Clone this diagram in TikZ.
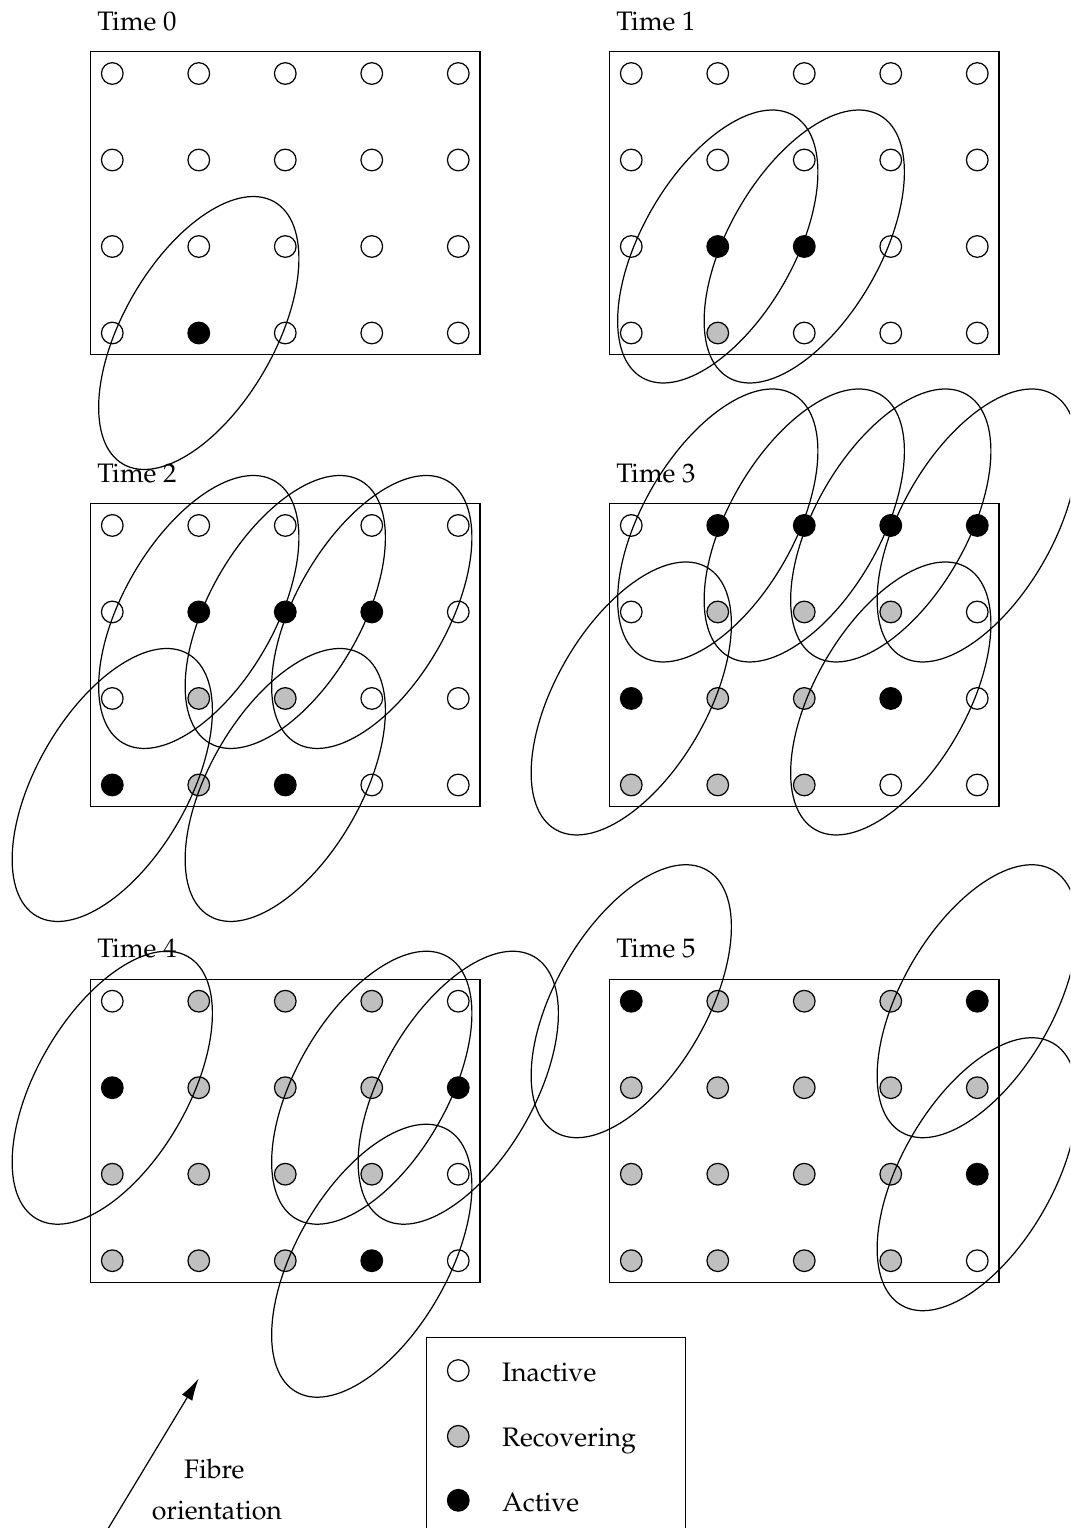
\documentclass[tikz,border=0pt]{standalone}
\usepackage[T1]{fontenc}
\renewcommand{\rmdefault}{ppl}
\usepackage{xcolor}
\usepackage{tikz}
\usetikzlibrary{arrows.meta,positioning}
\definecolor{recov}{gray}{0.75}
\tikzset{
  cell/.style={circle,draw,inner sep=0pt,minimum size=0.25cm},
  stw/.style={cell,fill=white},
  stg/.style={cell,fill=recov},
  stb/.style={cell,fill=black},
  fib/.style={thin},
  ar/.style={-{Latex[length=2.6mm,width=1.4mm]},thin},
  lbl/.style={anchor=base west,inner sep=0pt,font=\fontsize{8.8}{10.5}\selectfont},
  note/.style={anchor=base,inner sep=0pt,font=\fontsize{8.8}{10.5}\selectfont}
}
\newcommand{\panel}[4]{%
  \draw (#2-0.25,#3-0.25) rectangle (#2+4.25,#3+3.25);
  \node[lbl] (lab#1) at (#2-0.18,#3+3.5) {Time #1};
  \foreach \rw [count=\j from 0] in {#4}{
    \foreach \st [count=\i from 0] in \rw
      \node[st\st] (t#1-\i-\j) at (#2+\i,#3+3-\j) {};}}
\begin{document}
\begin{tikzpicture}
\useasboundingbox (-1.298,-3.09) rectangle (11.072,14.575);
\clip (-1.298,-3.09) rectangle (11.072,14.575);
\panel{0}{0}{10.725}{{w,w,w,w,w},{w,w,w,w,w},{w,w,w,w,w},{w,b,w,w,w}}
\panel{1}{6}{10.725}{{w,w,w,w,w},{w,w,w,w,w},{w,b,b,w,w},{w,g,w,w,w}}
\panel{2}{0}{5.5}{{w,w,w,w,w},{w,b,b,b,w},{w,g,g,w,w},{b,g,b,w,w}}
\panel{3}{6}{5.5}{{w,b,b,b,b},{w,g,g,g,w},{b,g,g,b,w},{g,g,g,w,w}}
\panel{4}{0}{0}{{w,g,g,g,w},{b,g,g,g,b},{g,g,g,g,w},{g,g,g,b,w}}
\panel{5}{6}{0}{{b,g,g,g,b},{g,g,g,g,g},{g,g,g,g,b},{g,g,g,g,w}}
\foreach \c in {t0-1-3,t1-1-2,t1-2-2,t2-1-1,t2-2-1,t2-3-1,t2-0-3,t2-2-3,t3-1-0,t3-2-0,t3-3-0,t3-4-0,t3-0-2,t3-3-2,t4-0-1,t4-3-1,t4-4-1,t4-3-3,t5-0-0,t5-4-0,t5-4-2}
  \draw[fib] (\c) ellipse [x radius=1.75,y radius=0.875,rotate=60];
\draw (3.63,-0.886) rectangle (6.63,-3.3);
\node[stw] (kw) at (4,-1.27) {};
\node[stg] (kg) at (4,-2.03) {};
\node[stb] (kb) at (4,-2.77) {};
\node[lbl] (kwt) at (4.5,-1.40) {Inactive};
\node[lbl] (kgt) at (4.5,-2.15) {Recovering};
\node[lbl] (kbt) at (4.5,-2.90) {Active};
\coordinate (ftail) at (-0.05,-3.1);
\coordinate (fhead) at (1.0,-1.36);
\draw[ar] (ftail) -- (fhead);
\node[note] (fo1) at (1.18,-2.516) {Fibre};
\node[note] (fo2) at (1.21,-2.99) {orientation};
\end{tikzpicture}
\end{document}
